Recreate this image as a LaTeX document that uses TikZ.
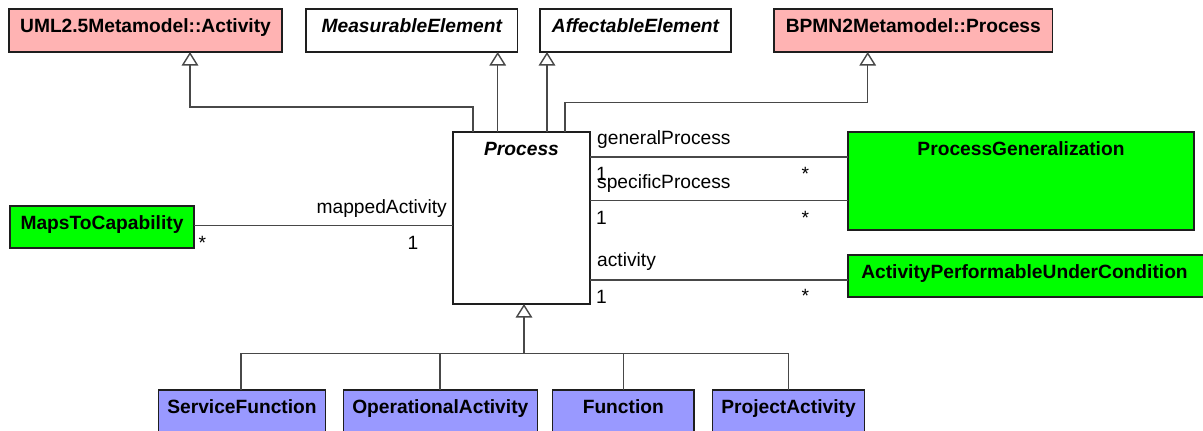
\documentclass[tikz,border=0pt]{standalone}
\usepackage{fontspec}
\setmainfont{Liberation Sans}
\usetikzlibrary{arrows.meta}
\definecolor{pinkc}{RGB}{255,179,179}
\definecolor{greenc}{RGB}{0,255,0}
\definecolor{bluec}{RGB}{153,153,255}
\definecolor{linec}{RGB}{72,72,72}
\definecolor{borderc}{RGB}{30,30,30}
\begin{document}
\begin{tikzpicture}[x=1pt,y=-1pt,
  box/.style={draw=borderc, line width=1.5pt, inner sep=0pt, outer sep=0pt, anchor=north west},
  nm/.style={font=\fontsize{19.2}{23}\selectfont\bfseries, anchor=base, inner sep=0pt},
  nmi/.style={font=\fontsize{19.2}{23}\selectfont\bfseries\itshape, anchor=base, inner sep=0pt},
  lbl/.style={font=\fontsize{19.2}{23}\selectfont, anchor=base west, inner sep=0pt},
  conn/.style={draw=linec, line width=1.4pt},
  gen/.style={conn, -{Triangle[open, width=16.5pt, length=13.5pt, fill=white]}}
]
\useasboundingbox (0,0) rectangle (1203,431);
\clip (0,0) rectangle (1203,431);

% top boxes
\node[box, fill=pinkc, minimum width=273pt, minimum height=43pt] (uml) at (9,9) {};
\node[box, fill=white, minimum width=211.7pt, minimum height=43pt] (meas) at (306,9) {};
\node[box, fill=white, minimum width=191pt, minimum height=43pt] (aff) at (540,9) {};
\node[box, fill=pinkc, minimum width=278.7pt, minimum height=43pt] (bpmn) at (774,9) {};
\node[nm] (umlT) at (145.5,32.5) {UML2.5Metamodel::Activity};
\node[nmi] (measT) at (411.8,32.5) {MeasurableElement};
\node[nmi] (affT) at (635.5,32.5) {AffectableElement};
\node[nm] (bpmnT) at (913.3,32.5) {BPMN2Metamodel::Process};

% central
\node[box, fill=white, minimum width=137pt, minimum height=172pt] (proc) at (453,132) {};
\node[nmi] (procT) at (521.5,155.5) {Process};

% right
\node[box, fill=greenc, minimum width=346pt, minimum height=98pt] (pg) at (848,132) {};
\node[nm] (pgT) at (1021,155.5) {ProcessGeneralization};
\node[box, fill=greenc, minimum width=356pt, minimum height=42pt] (apuc) at (848,255) {};
\node[nm] (apucT) at (1024.5,278.5) {ActivityPerformableUnderCondition};

% left
\node[box, fill=greenc, minimum width=184pt, minimum height=42pt] (maps) at (10,206) {};
\node[nm] (mapsT) at (102,229) {MapsToCapability};

% bottom
\node[box, fill=bluec, minimum width=167.4pt, minimum height=60pt] (sf) at (158.3,390) {};
\node[box, fill=bluec, minimum width=194pt, minimum height=60pt] (oa) at (343.3,390) {};
\node[box, fill=bluec, minimum width=141.3pt, minimum height=60pt] (fn) at (552.7,390) {};
\node[box, fill=bluec, minimum width=151.6pt, minimum height=60pt] (pa) at (712.7,390) {};
\node[nm] (sfT) at (242,413.5) {ServiceFunction};
\node[nm] (oaT) at (440.3,413.5) {OperationalActivity};
\node[nm] (fnT) at (623.3,413.5) {Function};
\node[nm] (paT) at (788.5,413.5) {ProjectActivity};

% generalizations upward
\draw[gen] ([xshift=20pt]proc.north west) -- ++(0,-25) -| ([xshift=181pt]uml.south west);
\draw[gen] ([xshift=44.7pt]proc.north west) -- ([xshift=44.7pt]proc.north west |- meas.south);
\draw[gen] ([xshift=94pt]proc.north west) -- ([xshift=94pt]proc.north west |- aff.south);
\draw[gen] ([xshift=112pt]proc.north west) -- ++(0,-29.3) -| ([xshift=93.7pt]bpmn.south west);

% generalization tree from children
\coordinate (j) at ([xshift=71pt,yshift=-49.3pt]proc.south west);
\draw[conn] ([xshift=82.7pt]sf.north west) |- (j);
\draw[conn] ([xshift=96.7pt]oa.north west) |- (j);
\draw[conn] ([xshift=70.6pt]fn.north west) |- (j);
\draw[conn] ([xshift=75.6pt]pa.north west) |- (j);
\draw[gen] (j) -- (j |- proc.south);

% associations
\draw[conn] ([yshift=-25pt]proc.north east) -- ([yshift=-25pt]proc.north east -| pg.west);
\draw[conn] ([yshift=-68.3pt]proc.north east) -- ([yshift=-68.3pt]proc.north east -| pg.west);
\draw[conn] ([yshift=-148pt]proc.north east) -- ([yshift=-148pt]proc.north east -| apuc.west);
\draw[conn] ([yshift=1.3pt]maps.east) -- ([yshift=1.3pt]maps.east -| proc.west);

% labels
\node[lbl] (gp) at (597,144.5) {generalProcess};
\node[lbl] (gp1) at (596,180) {1};
\node[lbl] (gps) at (801.5,180.5) {*};
\node[lbl] (sp) at (597,188.5) {specificProcess};
\node[lbl] (sp1) at (596,224) {1};
\node[lbl] (sps) at (801.5,224) {*};
\node[lbl] (ac) at (597,266.5) {activity};
\node[lbl] (ac1) at (596,303) {1};
\node[lbl] (acs) at (801.5,302.5) {*};
\node[lbl, anchor=base east] (ma) at (447,213.7) {mappedActivity};
\node[lbl] (ma1) at (407.5,249) {1};
\node[lbl] (mas) at (198.5,249) {*};
\end{tikzpicture}
\end{document}
